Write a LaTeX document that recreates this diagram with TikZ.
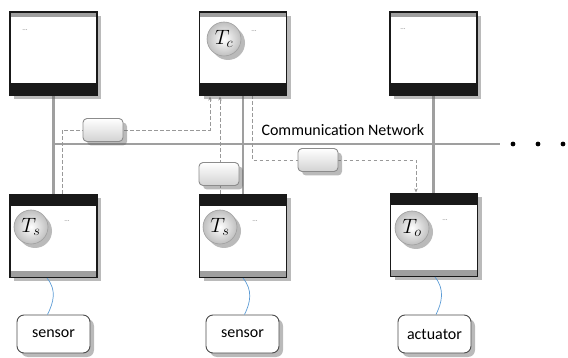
\documentclass[tikz,border=0pt]{standalone}
\usepackage{fontspec}
\setmainfont{Carlito}
\usetikzlibrary{shadows,arrows.meta}
\begin{document}
\begin{tikzpicture}[x=1pt,y=-1pt,
  shad/.style={drop shadow={shadow xshift=4pt,shadow yshift=-4pt,opacity=0.45,fill=black!60}},
  unitbox/.style={rectangle,draw=black!90,line width=1.2pt,fill=white,minimum width=87pt,minimum height=83pt,inner sep=0pt,shad},
  topband/.style={path picture={
     \fill[gray!75] (path picture bounding box.north west) rectangle ([yshift=-5pt]path picture bounding box.north east);
     \fill[black!90] (path picture bounding box.south west) rectangle ([yshift=12pt]path picture bounding box.south east);}},
  botband/.style={path picture={
     \fill[black!90] (path picture bounding box.north west) rectangle ([yshift=-12pt]path picture bounding box.north east);
     \fill[gray!75] (path picture bounding box.south west) rectangle ([yshift=6pt]path picture bounding box.south east);}},
  netline/.style={draw=gray!75,line width=2.6pt},
  msg/.style={draw=gray!80,line width=0.7pt,dash pattern=on 3.5pt off 2.5pt},
  msgarrow/.style={msg,-{Stealth[length=4pt,width=3.5pt]}},
  packet/.style={rectangle,rounded corners=4pt,draw=gray!90,line width=0.9pt,top color=white,bottom color=gray!35,minimum width=40pt,minimum height=23pt,inner sep=0pt,shad},
  task/.style={circle,draw=gray!75,line width=0.6pt,inner color=white,outer color=gray!50,minimum size=34pt,inner sep=0pt,font=\fontsize{20}{20}\selectfont,shad},
  dots/.style={font=\fontsize{7}{7}\selectfont,text=gray},
  device/.style={rectangle,rounded corners=7pt,draw=black!70,line width=0.9pt,fill=white,minimum width=73pt,minimum height=38pt,font=\fontsize{16}{16}\selectfont,shad},
  wire/.style={line width=0.7pt,color={rgb,255:red,91;green,155;blue,213}}
]
\useasboundingbox (0,0) rectangle (568,358);

% network
\coordinate (netL) at (53,144);
\coordinate (netR) at (500,144);
\draw[netline] (netL) -- (netR);
\node[anchor=base west,font=\fontsize{16}{16}\selectfont] (netlabel) at (258,136) {Communication Network};
\fill (513,144) circle (2.4pt) (538,144) circle (2.4pt) (563,144) circle (2.4pt);

% vertical connections (behind boxes)
\coordinate (v1t) at (53.5,95); \coordinate (v1b) at (53.5,194);
\coordinate (v2t) at (243,95); \coordinate (v2b) at (243,194);
\coordinate (v3t) at (433.5,95); \coordinate (v3b) at (433.5,194);
\draw[netline] (v1t) -- (v1b);
\draw[netline] (v2t) -- (v2b);
\draw[netline] (v3t) -- (v3b);

% dashed message paths
\coordinate (a0) at (62,194); \coordinate (a1) at (62,130); \coordinate (a2) at (210,130); \coordinate (a3) at (210,96.5);
\draw[msgarrow] (a0) -- (a1) -- (a2) -- (a3);
\coordinate (b0) at (220,194); \coordinate (b1) at (220,96.5);
\draw[msgarrow] (b0) -- (b1);
\coordinate (c0) at (252,95.5); \coordinate (c1) at (252,160); \coordinate (c2) at (416,160); \coordinate (c3) at (416,192.5);
\draw[msgarrow] (c0) -- (c1) -- (c2) -- (c3);

% packets
\node[packet] (p1) at (103,130) {};
\node[packet] (p2) at (219,174) {};
\node[packet] (p3) at (318,160) {};

% top boxes
\node[unitbox,topband] (n1) at (53.5,53.5) {};
\node[unitbox,topband] (n2) at (243,53.5) {};
\node[unitbox,topband] (n3) at (433.5,53.5) {};
% bottom boxes
\node[unitbox,botband] (n4) at (53.5,236) {};
\node[unitbox,botband] (n5) at (243,236) {};
\node[unitbox,botband] (n6) at (434,235) {};

% tasks
\node[task] (tc) at (224,39) {$T_c$};
\node[task] (ts1) at (31,227) {$T_s$};
\node[task] (ts2) at (220,227) {$T_s$};
\node[task] (to) at (412,228) {$T_o$};

% ellipses
\node[dots] (d1) at (25,30) {...};
\node[dots] (d2) at (254,31) {...};
\node[dots] (d3) at (403,29) {...};
\node[dots] (d4) at (67,221) {...};
\node[dots] (d5) at (255,221) {...};
\node[dots] (d6) at (445,220) {...};

% devices
\node[device] (s1) at (53.5,334) {sensor};
\node[device] (s2) at (242.5,334) {sensor};
\node[device] (act) at (434.5,334) {actuator};

% wires
\draw[wire] ([xshift=-6.5pt]n4.south) .. controls +(10,12) and +(6,-12) .. ([xshift=-6pt]s1.north);
\draw[wire] ([xshift=0pt]n5.south) .. controls +(10,12) and +(6,-12) .. ([xshift=2pt]s2.north);
\draw[wire] ([xshift=1pt]n6.south) .. controls +(10,12) and +(6,-12) .. ([xshift=1.5pt]act.north);
\end{tikzpicture}
\end{document}
